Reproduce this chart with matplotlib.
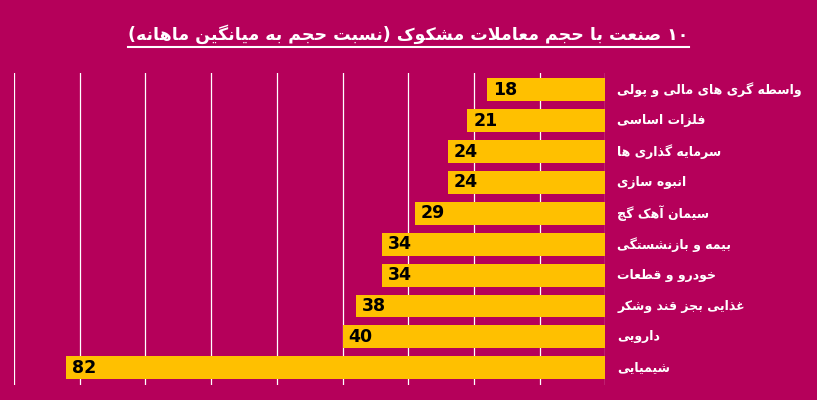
import matplotlib
matplotlib.use("Agg")
import matplotlib.pyplot as plt
from matplotlib.lines import Line2D

title = "۱۰ صنعت با حجم معاملات مشکوک (نسبت حجم به میانگین ماهانه)"
categories = ["واسطه گری های مالی و پولی", "فلزات اساسی", "سرمایه گذاری ها", "انبوه سازی",
              "سیمان آهک گچ", "بیمه و بازنشستگی", "خودرو و قطعات", "غذایی بجز قند وشکر",
              "دارویی", "شیمیایی"]
values = [18, 21, 24, 24, 29, 34, 34, 38, 40, 82]

FORMS = {
    'ا': (0xFE8D, 0xFE8E, None, None), 'آ': (0xFE81, 0xFE82, None, None),
    'ب': (0xFE8F, 0xFE90, 0xFE91, 0xFE92), 'پ': (0xFB56, 0xFB57, 0xFB58, 0xFB59),
    'ت': (0xFE95, 0xFE96, 0xFE97, 0xFE98), 'ث': (0xFE99, 0xFE9A, 0xFE9B, 0xFE9C),
    'ج': (0xFE9D, 0xFE9E, 0xFE9F, 0xFEA0), 'چ': (0xFB7A, 0xFB7B, 0xFB7C, 0xFB7D),
    'ح': (0xFEA1, 0xFEA2, 0xFEA3, 0xFEA4), 'خ': (0xFEA5, 0xFEA6, 0xFEA7, 0xFEA8),
    'د': (0xFEA9, 0xFEAA, None, None), 'ذ': (0xFEAB, 0xFEAC, None, None),
    'ر': (0xFEAD, 0xFEAE, None, None), 'ز': (0xFEAF, 0xFEB0, None, None),
    'ژ': (0xFB8A, 0xFB8B, None, None),
    'س': (0xFEB1, 0xFEB2, 0xFEB3, 0xFEB4), 'ش': (0xFEB5, 0xFEB6, 0xFEB7, 0xFEB8),
    'ص': (0xFEB9, 0xFEBA, 0xFEBB, 0xFEBC), 'ض': (0xFEBD, 0xFEBE, 0xFEBF, 0xFEC0),
    'ط': (0xFEC1, 0xFEC2, 0xFEC3, 0xFEC4), 'ظ': (0xFEC5, 0xFEC6, 0xFEC7, 0xFEC8),
    'ع': (0xFEC9, 0xFECA, 0xFECB, 0xFECC), 'غ': (0xFECD, 0xFECE, 0xFECF, 0xFED0),
    'ف': (0xFED1, 0xFED2, 0xFED3, 0xFED4), 'ق': (0xFED5, 0xFED6, 0xFED7, 0xFED8),
    'ک': (0xFB8E, 0xFB8F, 0xFB90, 0xFB91), 'گ': (0xFB92, 0xFB93, 0xFB94, 0xFB95),
    'ل': (0xFEDD, 0xFEDE, 0xFEDF, 0xFEE0), 'م': (0xFEE1, 0xFEE2, 0xFEE3, 0xFEE4),
    'ن': (0xFEE5, 0xFEE6, 0xFEE7, 0xFEE8), 'و': (0xFEED, 0xFEEE, None, None),
    'ه': (0xFEE9, 0xFEEA, 0xFEEB, 0xFEEC), 'ی': (0xFBFC, 0xFBFD, 0xFBFE, 0xFBFF),
}

def shape(s):
    chars = list(s)
    out = []
    n = len(chars)
    i = 0
    def joins_next(c):
        return c in FORMS and FORMS[c][2] is not None
    while i < n:
        c = chars[i]
        if c not in FORMS:
            out.append(c); i += 1; continue
        prev = chars[i-1] if i > 0 else ''
        jp = joins_next(prev)
        if c == 'ل' and i + 1 < n and chars[i+1] == 'ا':
            out.append(chr(0xFEFC if jp else 0xFEFB)); i += 2; continue
        nxt = chars[i+1] if i + 1 < n else ''
        jn = joins_next(c) and nxt in FORMS
        iso, fin, ini, med = FORMS[c]
        if jp and jn: g = med
        elif jp: g = fin
        elif jn: g = ini
        else: g = iso
        out.append(chr(g)); i += 1
    tokens = []
    j = 0
    while j < len(out):
        if out[j].isdigit():
            k = j
            while k < len(out) and out[k].isdigit(): k += 1
            tokens.append(''.join(out[j:k])); j = k
        else:
            tokens.append(out[j]); j += 1
    mirror = {'(': ')', ')': '('}
    return ''.join(mirror.get(t, t) for t in reversed(tokens))

BG = '#B5005A'
fig = plt.figure(figsize=(8.17, 4.0), dpi=100, facecolor=BG)
ax = fig.add_axes([0.017, 0.038, 0.724, 0.78])
ax.set_facecolor(BG)
y = list(range(len(values)))
ax.barh(y, values, height=0.74, color='#FFC000', zorder=3)
ax.set_xlim(90, 0)
ax.set_ylim(len(values) - 0.45, -0.55)
ax.set_xticks(range(0, 91, 10))
ax.grid(axis='x', color='white', linewidth=0.9, zorder=1)
ax.tick_params(left=False, bottom=False, labelleft=False, labelbottom=False)
for s in ax.spines.values():
    s.set_visible(False)
for yi, v, c in zip(y, values, categories):
    ax.text(v - 0.9, yi, str(v), ha='left', va='center', fontsize=12.5,
            fontweight='bold', family='DejaVu Sans', color='black', zorder=4)
    ax.text(-1.8, yi, shape(c), ha='left', va='center', fontsize=9,
            fontweight='bold', family='DejaVu Sans', color='white', clip_on=False)

t = fig.text(0.5, 0.915, shape(title), ha='center', va='center', fontsize=12.5,
             fontweight='bold', family='DejaVu Sans', color='white')
fig.canvas.draw()
bb = t.get_window_extent().transformed(fig.transFigure.inverted())
fig.add_artist(Line2D([bb.x0, bb.x1], [bb.y0 - 0.008, bb.y0 - 0.008],
                      transform=fig.transFigure, color='white', linewidth=1.5))
fig.savefig('out.png', dpi=100, facecolor=BG)
